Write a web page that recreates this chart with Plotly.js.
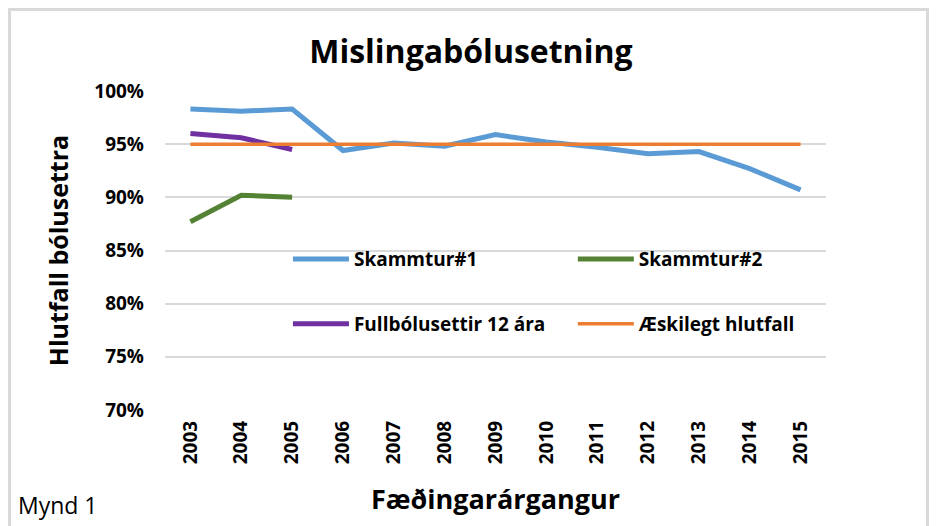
<!DOCTYPE html>
<html>
<head>
<meta charset="utf-8">
<script src="https://cdn.plot.ly/plotly-3.0.1.min.js"></script>
<style>
  html, body { margin: 0; padding: 0; background: #fff; }
  #wrap { position: relative; width: 938px; height: 526px; }
  #chart { width: 938px; height: 526px; }
  #frame { position: absolute; left: 8px; top: 8px; width: 921px; height: 530px;
           border: 3px solid #d9d9d9; border-bottom: none; pointer-events: none; box-sizing: border-box; }
</style>
</head>
<body>
<div id="wrap"><div id="chart"></div><div id="frame"></div></div>
<script>
const years = ["2003","2004","2005","2006","2007","2008","2009","2010","2011","2012","2013","2014","2015"];
const skammtur1 = [98.3, 98.1, 98.3, 94.4, 95.1, 94.8, 95.9, 95.2, 94.7, 94.1, 94.3, 92.7, 90.7];
const skammtur2 = [87.7, 90.2, 90.0];
const fullbol12 = [96.0, 95.6, 94.5];
const aeskilegt = [95, 95, 95, 95, 95, 95, 95, 95, 95, 95, 95, 95, 95];
const yTicks = [70, 75, 80, 85, 90, 95, 100];

const FONT = "'Open Sans', sans-serif";

const traces = [
  {x: years, y: skammtur1, name: "Skammtur#1", mode: "lines", line: {color: "#5B9BD5", width: 5}, legend: "legend"},
  {x: years.slice(0, 3), y: skammtur2, name: "Skammtur#2", mode: "lines", line: {color: "#548235", width: 5}, legend: "legend2"},
  {x: years.slice(0, 3), y: fullbol12, name: "Fullbólusettir 12 ára", mode: "lines", line: {color: "#7030A0", width: 5}, legend: "legend3"},
  {x: years, y: aeskilegt, name: "Æskilegt hlutfall", mode: "lines", line: {color: "#ED7D31", width: 3.5}, legend: "legend4"}
];

const legendCommon = {
  orientation: "h", xanchor: "left", yanchor: "middle",
  bgcolor: "rgba(0,0,0,0)", itemwidth: 56,
  font: {family: FONT, size: 19, color: "#000", weight: "bold"},
  itemclick: false, itemdoubleclick: false
};

const layout = {
  width: 938, height: 526,
  margin: {l: 165, r: 112, t: 91, b: 116},
  paper_bgcolor: "#fff", plot_bgcolor: "#fff",
  font: {family: FONT, color: "#000"},
  title: {text: "<b>Mislingabólusetning</b>", x: 0.502, xref: "container", xanchor: "center",
          y: 0.901, yref: "container", yanchor: "middle",
          font: {family: FONT, size: 32, color: "#000"}},
  xaxis: {type: "category", range: [-0.5, 12.5], tickangle: -90, showgrid: false,
          zeroline: false, showline: false, ticks: "", ticklabelstandoff: 6,
          tickfont: {family: FONT, size: 19, color: "#000", weight: "bold"},
          title: {text: "<b>Fæðingarárgangur</b>", font: {family: FONT, size: 27, color: "#000"}, standoff: 26}},
  yaxis: {range: [70, 100], tickvals: yTicks, ticktext: yTicks.map(v => v + "%"),
          showgrid: true, gridcolor: "#d9d9d9", gridwidth: 2, zeroline: false, showline: false, ticks: "",
          ticklabelstandoff: 20,
          tickfont: {family: FONT, size: 19, color: "#000", weight: "bold"},
          title: {text: "<b>Hlutfall bólusettra</b>", font: {family: FONT, size: 25, color: "#000"}, standoff: 18}},
  legend: Object.assign({}, legendCommon, {x: 0.186, y: 0.473}),
  legend2: Object.assign({}, legendCommon, {x: 0.617, y: 0.473}),
  legend3: Object.assign({}, legendCommon, {x: 0.186, y: 0.270}),
  legend4: Object.assign({}, legendCommon, {x: 0.617, y: 0.270}),
  showlegend: true,
  annotations: [{text: "Mynd 1", xref: "paper", yref: "paper", x: -0.225, y: -0.298,
                 xanchor: "left", yanchor: "middle", showarrow: false,
                 font: {family: FONT, size: 23, color: "#000"}}]
};

Plotly.newPlot("chart", traces, layout, {displayModeBar: false, staticPlot: true});
</script>
</body>
</html>
